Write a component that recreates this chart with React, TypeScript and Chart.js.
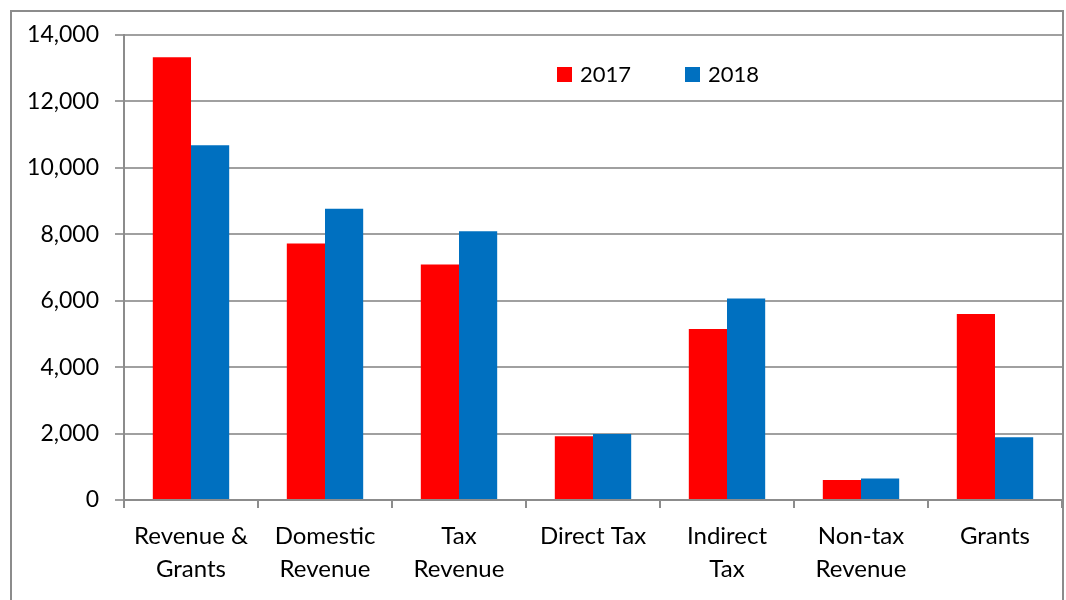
import React, { useEffect, useRef } from "react";
import { Chart, registerables } from "chart.js";

Chart.register(...registerables);

const categories: (string | string[])[] = [
  ["Revenue &", "Grants"],
  ["Domestic", "Revenue"],
  ["Tax", "Revenue"],
  "Direct Tax",
  ["Indirect", "Tax"],
  ["Non-tax", "Revenue"],
  "Grants",
];
const series2017 = [13330, 7720, 7090, 1920, 5150, 600, 5600];
const series2018 = [10680, 8770, 8090, 1990, 6070, 650, 1890];
const seriesLabels = ["2017", "2018"];
const yTicks = [0, 2000, 4000, 6000, 8000, 10000, 12000, 14000];

const FONT = "Lato, 'Open Sans', sans-serif";

const legendPlugin = {
  id: "innerLegend",
  afterDraw(chart: any) {
    const ctx = chart.ctx;
    const starts = [557, 685];
    ctx.save();
    ctx.font = `22px ${FONT}`;
    ctx.textBaseline = "middle";
    chart.data.datasets.forEach((ds: any, i: number) => {
      const x = starts[i];
      const y = 67;
      ctx.fillStyle = ds.backgroundColor;
      ctx.fillRect(x, y, 15, 15);
      ctx.fillStyle = "#000";
      ctx.fillText(ds.label, x + 23, y + 8);
    });
    ctx.restore();
  },
};

export default function App() {
  const ref = useRef<HTMLCanvasElement>(null);
  useEffect(() => {
    if (!ref.current) return;
    const chart = new Chart(ref.current, {
      type: "bar",
      data: {
        labels: categories as any,
        datasets: [
          { label: seriesLabels[0], data: series2017, backgroundColor: "#FF0000" },
          { label: seriesLabels[1], data: series2018, backgroundColor: "#0070C0" },
        ],
      },
      options: {
        animation: false,
        responsive: false,
        events: [],
        layout: { padding: { top: 35, left: 0, right: 4, bottom: 0 } },
        datasets: {
          bar: { categoryPercentage: 0.57, barPercentage: 1.0 },
        },
        plugins: {
          legend: { display: false },
          tooltip: { enabled: false },
        },
        scales: {
          x: {
            offset: true,
            grid: {
              offset: true,
              drawOnChartArea: false,
              drawTicks: true,
              tickLength: 8,
              color: "#8c8c8c",
              lineWidth: 2,
            },
            border: { display: true, color: "#8c8c8c", width: 2 },
            ticks: {
              color: "#000",
              font: { family: FONT, size: 24, lineHeight: 1.38 },
              padding: 12,
              maxRotation: 0,
              autoSkip: false,
            },
            afterFit(scale: any) {
              scale.height = 100;
            },
          },
          y: {
            min: 0,
            max: 14000,
            afterBuildTicks(scale: any) {
              scale.ticks = yTicks.map((v) => ({ value: v }));
            },
            grid: {
              color: "#a0a0a0",
              lineWidth: 2,
              drawTicks: true,
              tickLength: 9,
            },
            border: { display: true, color: "#8c8c8c", width: 2 },
            ticks: {
              color: "#000",
              font: { family: FONT, size: 23 },
              padding: 16,
              callback: (v: any) => Number(v).toLocaleString("en-US"),
            },
            afterFit(scale: any) {
              scale.width = 124;
            },
          },
        },
      },
      plugins: [legendPlugin],
    });
    return () => chart.destroy();
  }, []);

  return (
    <div style={{ position: "fixed", left: 0, top: 0, width: 1066, height: 600, background: "#fff", overflow: "hidden" }}>
      <div
        style={{
          position: "absolute",
          left: 10,
          top: 10,
          width: 1054,
          height: 620,
          border: "2px solid #8c8c8c",
          boxSizing: "border-box",
        }}
      />
      <canvas ref={ref} width={1066} height={600} style={{ position: "absolute", left: 0, top: 0, width: 1066, height: 600 }} />
    </div>
  );
}
